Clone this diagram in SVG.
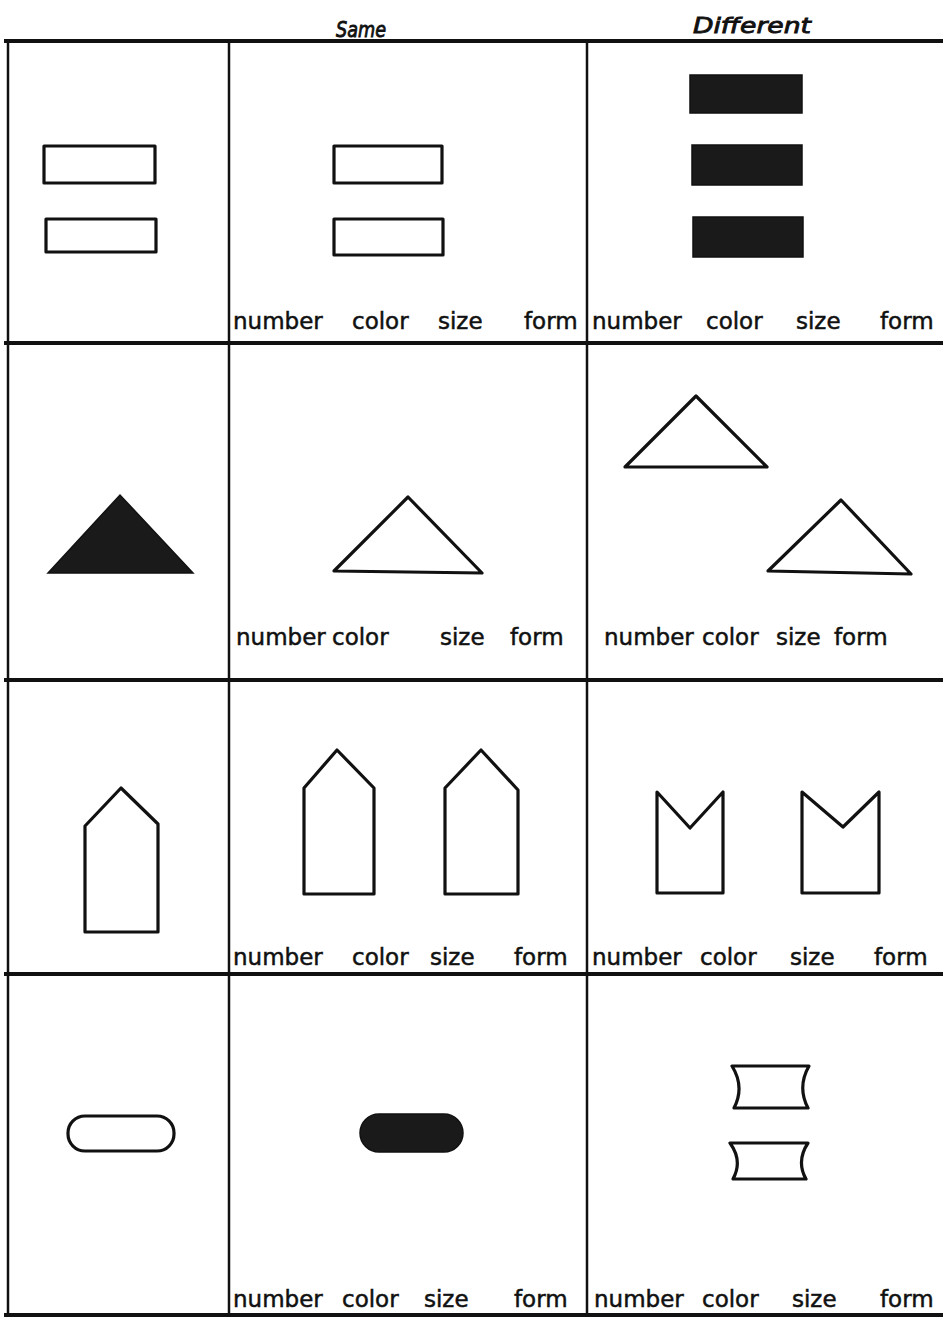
<svg xmlns="http://www.w3.org/2000/svg" width="943" height="1317" viewBox="0 0 943 1317">
<style>
.grid{stroke:#111;fill:none;stroke-linecap:square}
.h{stroke-width:4}
.v{stroke-width:2.5}
.o{fill:none;stroke:#111;stroke-width:3.2;stroke-linejoin:round}
.f{fill:#1a1a1a;stroke:#111;stroke-width:1.5}
.lbl{font-family:"DejaVu Sans",sans-serif;font-size:23px;fill:#111;stroke:#111;stroke-width:0.5}
.hdr{font-family:"DejaVu Sans",sans-serif;font-size:22px;font-style:italic;fill:#111;stroke:#111;stroke-width:0.9}
</style>
<rect width="943" height="1317" fill="#fff"/>
<g id="headers">
<text class="hdr" x="336" y="37" textLength="50" lengthAdjust="spacingAndGlyphs">Same</text>
<text class="hdr" x="693" y="33" textLength="118" lengthAdjust="spacingAndGlyphs">Different</text>
</g>
<g id="grid" class="grid">
<line class="h" x1="6" y1="41" x2="943" y2="41"/>
<line class="h" x1="6" y1="343" x2="943" y2="343"/>
<line class="h" x1="6" y1="680" x2="943" y2="680"/>
<line class="h" x1="6" y1="974" x2="943" y2="974"/>
<line class="h" x1="6" y1="1315" x2="943" y2="1315"/>
<line class="v" x1="8" y1="41" x2="8" y2="1317"/>
<line class="v" x1="229" y1="41" x2="229" y2="1317"/>
<line class="v" x1="587" y1="41" x2="587" y2="1317"/>
</g>
<g id="row1-left">
<rect class="o" x="44" y="146" width="111" height="37"/>
<rect class="o" x="46" y="219" width="110" height="33"/>
</g>
<g id="row1-same">
<rect class="o" x="334" y="146" width="108" height="37"/>
<rect class="o" x="334" y="219" width="109" height="36"/>
<text class="lbl" y="329"><tspan x="233">number</tspan><tspan x="352">color</tspan><tspan x="438">size</tspan><tspan x="524">form</tspan></text>
</g>
<g id="row1-different">
<rect class="f" x="690" y="75" width="112" height="38"/>
<rect class="f" x="692" y="145" width="110" height="40"/>
<rect class="f" x="693" y="217" width="110" height="40"/>
<text class="lbl" y="329"><tspan x="592">number</tspan><tspan x="706">color</tspan><tspan x="796">size</tspan><tspan x="880">form</tspan></text>
</g>
<g id="row2-left">
<path class="f" d="M48,573 L120,495 L193,573 Z"/>
</g>
<g id="row2-same">
<path class="o" d="M334,571 L408,497 L482,573 Z"/>
<text class="lbl" y="645"><tspan x="236">number</tspan><tspan x="332">color</tspan><tspan x="440">size</tspan><tspan x="510">form</tspan></text>
</g>
<g id="row2-different">
<path class="o" d="M625,467 L696,396 L767,467 Z"/>
<path class="o" d="M768,571 L841,500 L911,574 Z"/>
<text class="lbl" y="645"><tspan x="604">number</tspan><tspan x="702">color</tspan><tspan x="776">size</tspan><tspan x="834">form</tspan></text>
</g>
<g id="row3-left">
<path class="o" d="M85,932 L85,826 L121,788 L158,824 L158,932 Z"/>
</g>
<g id="row3-same">
<path class="o" d="M304,894 L304,788 L337,750 L374,788 L374,894 Z"/>
<path class="o" d="M445,894 L445,788 L481,750 L518,790 L518,894 Z"/>
<text class="lbl" y="965"><tspan x="233">number</tspan><tspan x="352">color</tspan><tspan x="430">size</tspan><tspan x="514">form</tspan></text>
</g>
<g id="row3-different">
<path class="o" d="M657,893 L657,792 L690,828 L723,792 L723,893 Z"/>
<path class="o" d="M802,893 L802,792 L843,827 L879,792 L879,893 Z"/>
<text class="lbl" y="965"><tspan x="592">number</tspan><tspan x="700">color</tspan><tspan x="790">size</tspan><tspan x="874">form</tspan></text>
</g>
<g id="row4-left">
<rect class="o" x="68" y="1116" width="106" height="35" rx="17" ry="17"/>
</g>
<g id="row4-same">
<rect class="f" x="360" y="1114" width="103" height="38" rx="19" ry="19"/>
<text class="lbl" y="1307"><tspan x="233">number</tspan><tspan x="342">color</tspan><tspan x="424">size</tspan><tspan x="514">form</tspan></text>
</g>
<g id="row4-different">
<path class="o" d="M732,1066 L809,1066 Q797,1087 808,1108 L734,1108 Q745,1087 732,1066 Z"/>
<path class="o" d="M730,1143 L808,1143 Q796,1161 806,1179 L733,1179 Q743,1161 730,1143 Z"/>
<text class="lbl" y="1307"><tspan x="594">number</tspan><tspan x="702">color</tspan><tspan x="792">size</tspan><tspan x="880">form</tspan></text>
</g>
</svg>
